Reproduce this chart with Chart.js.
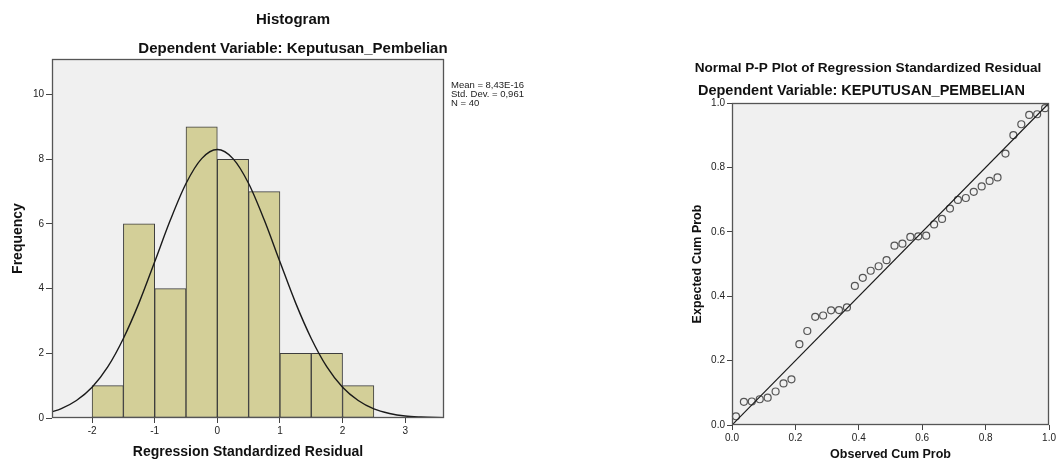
<!DOCTYPE html>
<html><head><meta charset="utf-8">
<script src="https://cdn.jsdelivr.net/npm/chart.js@4.4.0/dist/chart.umd.min.js"></script>
<style>
html,body{margin:0;padding:0;background:#fff;width:1058px;height:464px;overflow:hidden}
#c1{position:absolute;left:0;top:0}
#c2{position:absolute;left:680px;top:0}
</style></head><body>
<canvas id="c1" width="600" height="464"></canvas>
<canvas id="c2" width="378" height="464"></canvas>
<script>
// ---------- Histogram data ----------
const histBinCenters = [-1.75, -1.25, -0.75, -0.25, 0.25, 0.75, 1.25, 1.75, 2.25];
const histFreq       = [1, 6, 4, 9, 8, 7, 2, 2, 1];
const curveX = [-2.64, -2.5, -2.25, -2.0, -1.75, -1.5, -1.25, -1.0, -0.75, -0.5, -0.25, 0.0,
                0.25, 0.5, 0.75, 1.0, 1.25, 1.5, 1.75, 2.0, 2.25, 2.5, 2.75, 3.0, 3.25, 3.62];
const curveY = [0.19, 0.28, 0.54, 0.95, 1.58, 2.46, 3.56, 4.83, 6.12, 7.25, 8.02, 8.30,
                8.02, 7.25, 6.12, 4.83, 3.56, 2.46, 1.58, 0.95, 0.54, 0.28, 0.14, 0.06, 0.03, 0.01];
const histXTicks = [-2, -1, 0, 1, 2, 3];
const histYTicks = [0, 2, 4, 6, 8, 10];
const histTitle = "Histogram";
const histSubtitle = "Dependent Variable: Keputusan_Pembelian";
const histXTitle = "Regression Standardized Residual";
const histYTitle = "Frequency";
const histStats = ["Mean = 8,43E-16", "Std. Dev. = 0,961", "N = 40"];

// ---------- P-P plot data ----------
const ppObserved = [0.0125, 0.0375, 0.0625, 0.0875, 0.1125, 0.1375, 0.1625, 0.1875, 0.2125, 0.2375,
                    0.2625, 0.2875, 0.3125, 0.3375, 0.3625, 0.3875, 0.4125, 0.4375, 0.4625, 0.4875,
                    0.5125, 0.5375, 0.5625, 0.5875, 0.6125, 0.6375, 0.6625, 0.6875, 0.7125, 0.7375,
                    0.7625, 0.7875, 0.8125, 0.8375, 0.8625, 0.8875, 0.9125, 0.9375, 0.9625, 0.9875];
const ppExpected = [0.027, 0.072, 0.073, 0.080, 0.085, 0.104, 0.129, 0.142, 0.251, 0.292,
                    0.336, 0.340, 0.356, 0.357, 0.365, 0.432, 0.457, 0.479, 0.493, 0.512,
                    0.557, 0.563, 0.584, 0.586, 0.588, 0.623, 0.640, 0.672, 0.699, 0.705,
                    0.724, 0.741, 0.758, 0.769, 0.843, 0.900, 0.934, 0.963, 0.965, 0.984];
const ppRefLine = [0, 1];
const ppTicks = [0, 0.2, 0.4, 0.6, 0.8, 1.0];
const ppTickLabels = ["0.0", "0.2", "0.4", "0.6", "0.8", "1.0"];
const ppTitle = "Normal P-P Plot of Regression Standardized Residual";
const ppSubtitle = "Dependent Variable: KEPUTUSAN_PEMBELIAN";
const ppXTitle = "Observed Cum Prob";
const ppYTitle = "Expected Cum Prob";

const FF = '"Liberation Sans", Arial, sans-serif';
Chart.defaults.font.family = FF;
Chart.defaults.color = '#222';

function framePlugin(bg, frame) {
  return {
    id: 'frame',
    beforeDatasetsDraw(chart) {
      const a = chart.chartArea, c = chart.ctx;
      c.save(); c.fillStyle = bg; c.fillRect(a.left, a.top, a.right - a.left, a.bottom - a.top); c.restore();
    },
    afterDatasetsDraw(chart) {
      const a = chart.chartArea, c = chart.ctx;
      c.save(); c.strokeStyle = frame; c.lineWidth = 1.3;
      c.strokeRect(Math.round(a.left) + 0.5, Math.round(a.top) + 0.5,
                   Math.round(a.right - a.left) - 1, Math.round(a.bottom - a.top) - 1);
      c.restore();
    }
  };
}
function textPlugin(items) {
  return {
    id: 'texts',
    afterDraw(chart) {
      const c = chart.ctx;
      c.save();
      items.forEach(t => {
        c.font = t.font; c.fillStyle = t.color || '#111';
        c.textAlign = t.align || 'center'; c.textBaseline = 'alphabetic';
        c.fillText(t.text, t.x, t.y);
      });
      c.restore();
    }
  };
}
function tickSetter(vals) {
  return s => { s.ticks = vals.map(v => ({ value: v })); };
}

// ---------- Histogram ----------
new Chart(document.getElementById('c1'), {
  type: 'bar',
  data: {
    datasets: [
      {
        type: 'line',
        data: curveX.map((x, i) => ({ x, y: curveY[i] })),
        borderColor: '#1a1a1a', borderWidth: 1.4, pointRadius: 0,
        cubicInterpolationMode: 'monotone', fill: false, order: 0
      },
      {
        type: 'bar',
        data: histBinCenters.map((x, i) => ({ x, y: histFreq[i] })),
        backgroundColor: '#d3cf98', borderColor: '#3d3d3d', borderWidth: 1,
        barPercentage: 1, categoryPercentage: 1, order: 1, borderSkipped: false
      }
    ]
  },
  options: {
    responsive: false, animation: false, devicePixelRatio: 1,
    layout: { padding: { left: 0, top: 59, right: 156, bottom: 0 } },
    plugins: { legend: { display: false }, tooltip: { enabled: false } },
    scales: {
      x: {
        type: 'linear', min: -2.64, max: 3.62, offset: false,
        afterBuildTicks: tickSetter(histXTicks),
        afterFit: s => { s.height = 46; },
        grid: { offset: false, drawOnChartArea: false, drawTicks: true, tickLength: 5, tickColor: '#444', color: '#444' },
        border: { display: false },
        ticks: { font: { size: 10 }, color: '#222', padding: 2, maxRotation: 0, autoSkip: false },
        title: { display: true, text: histXTitle, font: { size: 14, weight: 'bold' }, color: '#111', padding: { top: 0, bottom: 3 } }
      },
      y: {
        min: 0, max: 11.1,
        afterBuildTicks: tickSetter(histYTicks),
        afterFit: s => { s.width = 52; },
        grid: { offset: false, drawOnChartArea: false, drawTicks: true, tickLength: 6, tickColor: '#444', color: '#444' },
        border: { display: false },
        ticks: { font: { size: 10 }, color: '#222', padding: 2, autoSkip: false },
        title: { display: true, text: histYTitle, font: { size: 14, weight: 'bold' }, color: '#111', padding: { top: 10, bottom: 0 } }
      }
    }
  },
  plugins: [
    framePlugin('#f0f0f0', '#555'),
    textPlugin([
      { text: histTitle, x: 293, y: 23.5, font: 'bold 15px ' + FF },
      { text: histSubtitle, x: 293, y: 52.5, font: 'bold 15px ' + FF },
      { text: histStats[0], x: 451, y: 87.5, font: '9.5px ' + FF, align: 'left', color: '#222' },
      { text: histStats[1], x: 451, y: 96.5, font: '9.5px ' + FF, align: 'left', color: '#222' },
      { text: histStats[2], x: 451, y: 105.5, font: '9.5px ' + FF, align: 'left', color: '#222' }
    ])
  ]
});

// ---------- P-P plot ----------
new Chart(document.getElementById('c2'), {
  type: 'scatter',
  data: {
    datasets: [
      {
        type: 'line',
        data: ppRefLine.map(v => ({ x: v, y: v })),
        borderColor: '#1a1a1a', borderWidth: 1.2, pointRadius: 0, showLine: true, fill: false, order: 0
      },
      {
        type: 'scatter',
        data: ppObserved.map((x, i) => ({ x, y: ppExpected[i] })),
        pointRadius: 3.5, pointStyle: 'circle', backgroundColor: 'rgba(0,0,0,0)',
        borderColor: '#555', borderWidth: 1.2, clip: false, order: 1
      }
    ]
  },
  options: {
    responsive: false, animation: false, devicePixelRatio: 1,
    layout: { padding: { left: 0, top: 103, right: 4, bottom: 0 } },
    plugins: { legend: { display: false }, tooltip: { enabled: false } },
    scales: {
      x: {
        type: 'linear', min: 0, max: 1,
        afterBuildTicks: tickSetter(ppTicks),
        afterFit: s => { s.height = 39; },
        grid: { offset: false, drawOnChartArea: false, drawTicks: true, tickLength: 5, tickColor: '#444', color: '#444' },
        border: { display: false },
        ticks: { font: { size: 10 }, color: '#222', padding: 2, maxRotation: 0, autoSkip: false,
                 callback: (v, i) => ppTickLabels[i] },
        title: { display: true, text: ppXTitle, font: { size: 12.5, weight: 'bold' }, color: '#111', padding: { top: 0, bottom: 1.5 } }
      },
      y: {
        type: 'linear', min: 0, max: 1,
        afterBuildTicks: tickSetter(ppTicks),
        afterFit: s => { s.width = 52; },
        grid: { offset: false, drawOnChartArea: false, drawTicks: true, tickLength: 5, tickColor: '#444', color: '#444' },
        border: { display: false },
        ticks: { font: { size: 10 }, color: '#222', padding: 2, autoSkip: false,
                 callback: (v, i) => ppTickLabels[i] },
        title: { display: true, text: ppYTitle, font: { size: 12.5, weight: 'bold' }, color: '#111', padding: { top: 10.5, bottom: 0 } }
      }
    }
  },
  plugins: [
    framePlugin('#f0f0f0', '#555'),
    textPlugin([
      { text: ppTitle, x: 188, y: 72, font: 'bold 13.6px ' + FF },
      { text: ppSubtitle, x: 181.5, y: 95, font: 'bold 14.5px ' + FF }
    ])
  ]
});
</script>
</body></html>
